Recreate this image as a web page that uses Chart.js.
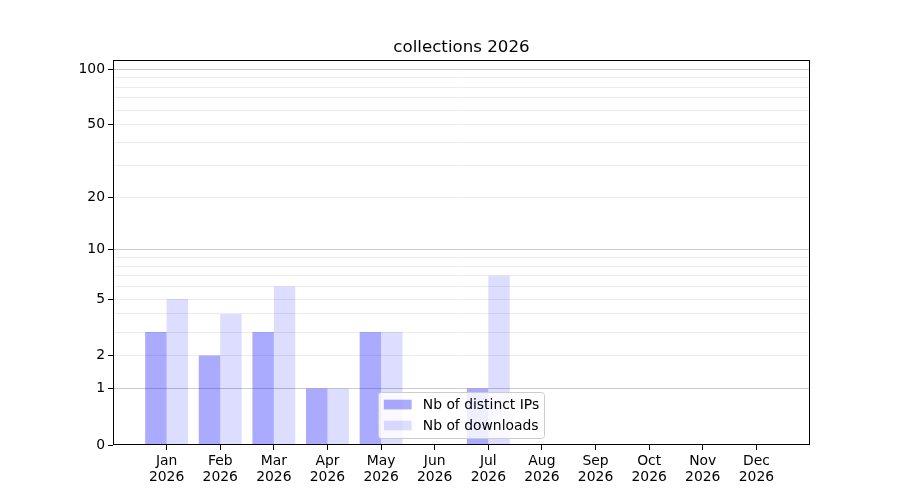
<!DOCTYPE html>
<html>
<head>
<meta charset="utf-8">
<script src="https://cdn.jsdelivr.net/npm/chart.js@4"></script>
<style>
html,body{margin:0;padding:0;background:#fff;}
#wrap{width:900px;height:500px;}
</style>
</head>
<body>
<div id="wrap"><canvas id="c" width="900" height="500"></canvas></div>
<script>
const chartTitle = 'collections 2026';
const categories = ['Jan 2026','Feb 2026','Mar 2026','Apr 2026','May 2026','Jun 2026','Jul 2026','Aug 2026','Sep 2026','Oct 2026','Nov 2026','Dec 2026'];
const seriesNames = ['Nb of distinct IPs','Nb of downloads'];
const ipsValues = [3,2,3,1,3,0,1,0,0,0,0,0];
const downloadValues = [5,4,6,1,3,0,7,0,0,0,0,0];
const yTickLabels = [0,1,2,5,10,20,50,100];
const yMajorGrid = [1,10,100];
const yMinorGrid = [2,3,4,5,6,7,8,9,20,30,40,50,60,70,80,90];
const yMin = 0;
const yMax = 112;

const FONT = '"DejaVu Sans", sans-serif';
const FS = 13.9;
Chart.defaults.font.family = FONT;
Chart.defaults.font.size = FS;
Chart.defaults.color = '#000';

// log(1+x) scale, as used by the reference
class Log1pScale extends Chart.LinearScale {
  buildTicks() {
    const vals = Array.from(new Set([...yTickLabels, ...yMajorGrid, ...yMinorGrid])).sort((a,b)=>a-b);
    return vals.filter(v => v >= this.min && v <= this.max).map(v => ({value: v}));
  }
  configure() {
    super.configure();
    this._tMin = Math.log10(1 + this.min);
    this._tMax = Math.log10(1 + this.max);
  }
  getPixelForValue(v) {
    const t = Math.log10(1 + Math.max(v, 0));
    return this.getPixelForDecimal((t - this._tMin) / (this._tMax - this._tMin));
  }
  getValueForPixel(p) {
    const d = this.getDecimalForPixel(p);
    return Math.pow(10, this._tMin + d * (this._tMax - this._tMin)) - 1;
  }
}
Log1pScale.id = 'log1p';
Log1pScale.defaults = {};
Chart.register(Log1pScale);

const titlePlugin = {
  id: 'axTitle',
  afterDraw(chart) {
    const {ctx, chartArea: a} = chart;
    ctx.save();
    ctx.font = '16.67px ' + FONT;
    ctx.fillStyle = '#000';
    ctx.textAlign = 'center';
    ctx.textBaseline = 'alphabetic';
    ctx.fillText(chartTitle, (a.left + a.right) / 2, a.top - 8.33);
    ctx.restore();
  }
};

const framePlugin = {
  id: 'frame',
  afterDatasetsDraw(chart) {
    const {ctx, chartArea: a} = chart;
    ctx.save();
    ctx.strokeStyle = '#000';
    ctx.lineWidth = 1;
    const l = Math.round(a.left) + 0.5, r = Math.round(a.right) - 0.5;
    const t = Math.round(a.top) + 0.5, b = Math.round(a.bottom) - 0.5;
    ctx.strokeRect(l, t, r - l, b - t);
    ctx.restore();
  }
};

const legendPlugin = {
  id: 'innerLegend',
  afterDraw(chart) {
    const {ctx, chartArea: a} = chart;
    const ds = chart.data.datasets;
    ctx.save();
    ctx.font = FS + 'px ' + FONT;
    const bp = 0.4 * FS, hl = 2 * FS, htp = 0.8 * FS, sp = 0.5 * FS, rowH = 14;
    let maxW = 0;
    ds.forEach(d => { maxW = Math.max(maxW, ctx.measureText(d.label).width); });
    const w = 2 * bp + hl + htp + maxW;
    const h = 2 * bp + ds.length * rowH + (ds.length - 1) * sp;
    const x0 = (a.left + a.right) / 2 - w / 2;
    const y0 = a.bottom - 0.5 * FS - h;
    ctx.beginPath();
    ctx.roundRect(Math.round(x0) + 0.5, Math.round(y0) + 0.5, Math.round(w), Math.round(h), 3);
    ctx.fillStyle = 'rgba(255,255,255,0.8)';
    ctx.fill();
    ctx.strokeStyle = '#cccccc';
    ctx.lineWidth = 1;
    ctx.stroke();
    ds.forEach((d, i) => {
      const cy = y0 + bp + rowH / 2 + i * (rowH + sp);
      ctx.fillStyle = d.backgroundColor;
      ctx.fillRect(x0 + bp, cy - 0.35 * FS, hl, 0.7 * FS);
      ctx.fillStyle = '#000';
      ctx.textBaseline = 'middle';
      ctx.textAlign = 'left';
      ctx.fillText(d.label, x0 + bp + hl + htp, cy + 1);
    });
    ctx.restore();
  }
};

new Chart(document.getElementById('c'), {
  type: 'bar',
  data: {
    datasets: [
      {
        label: seriesNames[0],
        data: ipsValues.map((v, i) => ({x: i, y: v})),
        backgroundColor: 'rgba(0,0,255,0.333)',
        borderWidth: 0,
        categoryPercentage: 0.8,
        barPercentage: 1.0
      },
      {
        label: seriesNames[1],
        data: downloadValues.map((v, i) => ({x: i, y: v})),
        backgroundColor: 'rgba(0,0,255,0.133)',
        borderWidth: 0,
        categoryPercentage: 0.8,
        barPercentage: 1.0
      }
    ]
  },
  options: {
    responsive: false,
    animation: false,
    layout: {padding: {left: 0, right: 90, top: 60, bottom: 0}},
    plugins: {
      legend: {display: false},
      tooltip: {enabled: false},
      title: {display: false}
    },
    scales: {
      x: {
        type: 'linear',
        min: -1,
        max: categories.length,
        offset: false,
        afterBuildTicks: s => { s.ticks = categories.map((c, i) => ({value: i})); },
        afterFit: s => { s.height = 55; },
        border: {display: false},
        grid: {offset: false, drawOnChartArea: false, drawTicks: true, tickLength: 5, tickColor: '#000', tickWidth: 1, color: 'transparent'},
        ticks: {
          autoSkip: false,
          maxRotation: 0,
          padding: 3,
          font: {size: FS, lineHeight: 1.15},
          callback: v => (categories[v] !== undefined ? categories[v].split(' ') : '')
        }
      },
      y: {
        type: 'log1p',
        min: yMin,
        max: yMax,
        afterFit: s => { s.width = 113; },
        border: {display: false},
        grid: {
          drawTicks: true,
          tickLength: 5,
          tickWidth: 1,
          lineWidth: 1,
          color: c => {
            const v = c.tick ? c.tick.value : null;
            if (v === 0) return 'transparent';
            if (yMajorGrid.includes(v)) return '#cccccc';
            return '#ececec';
          },
          tickColor: c => (c.tick && yTickLabels.includes(c.tick.value) ? '#000' : 'transparent')
        },
        ticks: {
          autoSkip: false,
          padding: 3,
          font: {size: FS},
          callback: v => (yTickLabels.includes(v) ? String(v) : '')
        }
      }
    }
  },
  plugins: [titlePlugin, framePlugin, legendPlugin]
});
</script>
</body>
</html>
